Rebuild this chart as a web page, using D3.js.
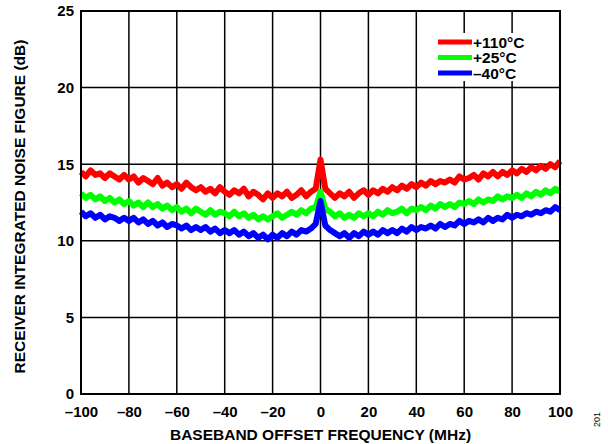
<!DOCTYPE html>
<html><head><meta charset="utf-8">
<script src="https://cdn.jsdelivr.net/npm/d3@7"></script>
<style>body{margin:0;background:#fff}svg{display:block}text{font-family:"Liberation Sans",Arial,sans-serif;font-weight:bold;fill:#000}</style>
</head><body>
<svg id="c" width="608" height="444"></svg>
<script>
const freq = d3.range(-100, 101, 2);
const xTicks = [-100,-80,-60,-40,-20,0,20,40,60,80,100];
const yTicks = [0,5,10,15,20,25];
const seriesNames = ["+110°C","+25°C","\u201340°C"];
const seriesColors = ["#ff0000","#00ff00","#0000ff"];
const red = [14.5,14.2,14.6,14.3,14.4,14.1,14.4,14.2,14.0,14.3,
14.0,14.2,13.8,14.1,13.9,13.7,14.1,13.6,13.8,13.5,
13.7,13.4,13.8,13.5,13.3,13.5,13.2,13.4,13.1,13.5,
13.2,13.0,13.3,13.1,13.4,12.9,13.2,13.0,12.7,13.1,
12.8,13.1,12.9,13.2,12.8,13.0,13.3,12.9,13.2,13.4,
15.3,
13.4,13.1,12.8,13.1,12.9,13.2,12.8,13.1,13.3,13.0,
13.3,13.1,13.4,13.2,13.5,13.3,13.6,13.4,13.7,13.5,
13.8,13.6,13.9,13.7,13.9,13.8,14.0,13.8,14.2,14.0,
14.1,14.3,14.0,14.4,14.2,14.5,14.2,14.5,14.3,14.6,
14.4,14.7,14.5,14.8,14.6,14.9,14.7,15.0,14.8,15.2];
const green = [13.1,12.8,13.0,12.7,12.9,12.6,12.8,12.5,12.7,12.4,
12.6,12.3,12.5,12.2,12.5,12.2,12.4,12.1,12.3,12.0,
12.2,11.9,12.1,11.8,12.1,11.9,11.7,12.0,11.7,11.9,
11.8,11.6,11.9,11.6,11.8,11.5,11.7,11.4,11.6,11.4,
11.6,11.8,11.5,11.7,11.9,11.7,12.0,11.8,12.1,12.2,
13.2,
12.1,11.9,11.6,11.8,11.5,11.7,11.5,11.8,11.6,11.8,
11.6,11.9,11.7,12.0,11.8,11.9,12.1,11.8,12.1,12.0,
12.2,12.0,12.3,12.1,12.4,12.2,12.4,12.2,12.5,12.4,
12.6,12.4,12.7,12.5,12.7,12.6,12.9,12.7,12.9,12.8,
13.0,12.8,13.1,12.9,13.2,13.0,13.3,13.1,13.4,13.2];
const blue = [11.9,11.6,11.8,11.5,11.7,11.4,11.6,11.5,11.3,11.5,
11.3,11.5,11.2,11.4,11.1,11.3,11.0,11.2,10.9,11.1,
11.0,10.8,11.0,10.7,10.9,10.7,10.9,10.6,10.8,10.5,
10.7,10.5,10.7,10.4,10.6,10.3,10.5,10.2,10.4,10.1,
10.4,10.2,10.5,10.3,10.6,10.4,10.7,10.6,10.8,11.1,
12.6,
11.0,10.7,10.5,10.3,10.5,10.2,10.5,10.3,10.6,10.4,
10.6,10.4,10.7,10.5,10.7,10.5,10.8,10.6,10.9,10.7,
10.9,10.8,11.0,10.8,11.1,10.9,11.1,11.0,11.3,11.1,
11.3,11.2,11.4,11.2,11.5,11.3,11.5,11.4,11.7,11.5,
11.7,11.6,11.8,11.7,11.9,11.8,12.0,11.9,12.2,12.0];
const seriesValues = [red, green, blue];

const svg = d3.select("#c");
const L = 81, R = 560, T = 11, B = 394;
const x = d3.scaleLinear().domain([-100,100]).range([L,R]);
const y = d3.scaleLinear().domain([0,25]).range([B,T]);

// grid
const g = svg.append("g");
g.selectAll("line.v").data(xTicks.slice(1,-1)).join("line")
  .attr("x1",d=>x(d)).attr("x2",d=>x(d)).attr("y1",T).attr("y2",B)
  .attr("stroke","#000").attr("stroke-width",1.5);
g.selectAll("line.h").data(yTicks.slice(1,-1)).join("line")
  .attr("y1",d=>y(d)).attr("y2",d=>y(d)).attr("x1",L).attr("x2",R)
  .attr("stroke","#000").attr("stroke-width",1.5);

// series
const line = d3.line().x((d,i)=>x(freq[i])).y(d=>y(d));
seriesValues.forEach((vals,k)=>{
  svg.append("path").datum(vals).attr("d",line)
    .attr("fill","none").attr("stroke",seriesColors[k])
    .attr("stroke-width",6).attr("stroke-linejoin","round");
});

// frame
svg.append("rect").attr("x",L).attr("y",T).attr("width",R-L).attr("height",B-T)
  .attr("fill","none").attr("stroke","#000").attr("stroke-width",2);

// axes
const xa = svg.append("g").attr("transform",`translate(0,${B})`)
  .call(d3.axisBottom(x).tickValues(xTicks).tickSize(0).tickPadding(10)
    .tickFormat(d=>d<0?"\u2013"+Math.abs(d):d));
xa.select(".domain").remove();
xa.selectAll("text").attr("font-size",15).attr("dy","0.85em").style("font-family","Liberation Sans, Arial, sans-serif").style("font-weight","bold");
const ya = svg.append("g").attr("transform",`translate(${L},0)`)
  .call(d3.axisLeft(y).tickValues(yTicks).tickSize(0).tickPadding(7));
ya.select(".domain").remove();
ya.selectAll("text").attr("font-size",15).style("font-family","Liberation Sans, Arial, sans-serif").style("font-weight","bold");

// titles
svg.append("text").attr("x",(L+R)/2).attr("y",440).attr("text-anchor","middle")
  .attr("font-size",15.5).text("BASEBAND OFFSET FREQUENCY (MHz)");
svg.append("text").attr("transform",`translate(25,${(T+B)/2+4}) rotate(-90)`)
  .attr("text-anchor","middle").attr("font-size",15.5).text("RECEIVER INTEGRATED NOISE FIGURE (dB)");
svg.append("text").attr("transform","translate(600,427) rotate(-90)")
  .attr("font-size",9).style("font-weight","normal").attr("fill","#333").text("201");

// legend
const lg = svg.append("g");
lg.append("rect").attr("x",436).attr("y",33).attr("width",96).attr("height",48).attr("fill","#fff");
seriesNames.forEach((n,k)=>{
  const yy = 42 + k*15.5;
  lg.append("line").attr("x1",438).attr("x2",472).attr("y1",yy).attr("y2",yy)
    .attr("stroke",seriesColors[k]).attr("stroke-width",5);
  lg.append("text").attr("x",473).attr("y",yy+5.5).attr("font-size",15.5).text(n);
});
</script>
</body></html>
